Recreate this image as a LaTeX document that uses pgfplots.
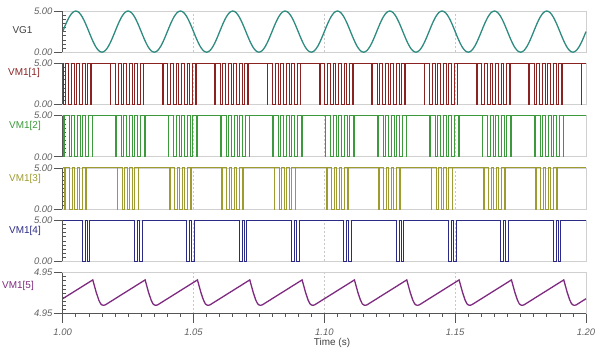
\documentclass[border=0pt]{standalone}
\usepackage{pgfplots}
\pgfplotsset{compat=1.18}
\usepackage{fontspec}
\setmainfont{Liberation Sans}
\definecolor{cVG}{HTML}{2E8B80}
\definecolor{cA}{HTML}{8B2222}
\definecolor{cB}{HTML}{3C9A3C}
\definecolor{cC}{HTML}{9E9C30}
\definecolor{cD}{HTML}{2B2B85}
\definecolor{cE}{HTML}{7E2A80}
\definecolor{framec}{HTML}{D0D0D0}
\definecolor{gridc}{HTML}{C8C8C8}
\definecolor{tickc}{HTML}{555555}
\definecolor{tlab}{HTML}{606060}
\pgfplotsset{
  panel/.style={
    width=523.3bp, height=41.2bp, scale only axis,
    xmin=1, xmax=1.2, ymin=0, ymax=5, clip=false,
    axis line style={draw=framec, line width=0.6bp},
    xtick={1.05,1.10,1.15}, xticklabels={}, xmajorticks=false, xminorticks=false,
    xmajorgrids, major x grid style={dash pattern=on 2bp off 2bp, draw=gridc, line width=0.5bp},
    ytick={0,5}, yticklabels={0.00,5.00}, ytick pos=left,
    minor y tick num=9,
    tick align=outside, major tick length=9bp, minor tick length=3bp,
    tick style={draw=tickc, line width=0.6bp},
    minor y tick style={xshift=3bp},
    yticklabel style={font=\fontsize{9.5}{10}\selectfont\itshape, text=tlab, inner sep=1bp},
    anchor=south west,
  },
  dig/.style={const plot, line width=0.9bp},
}
\begin{document}
\begin{tikzpicture}[x=1bp,y=1bp]
% ---------------- VG1
\begin{axis}[panel, at={(62.7bp,303.8bp)}]
\addplot[cVG, line width=1.3bp, smooth] coordinates {
(1.00000,2.5)(1.00125,3.457)(1.00250,4.268)(1.00375,4.810)(1.00500,5)(1.00625,4.810)(1.00750,4.268)(1.00875,3.457)(1.01000,2.5)(1.01125,1.543)(1.01250,0.732)(1.01375,0.190)(1.01500,0)(1.01625,0.190)(1.01750,0.732)(1.01875,1.543)
(1.02000,2.5)(1.02125,3.457)(1.02250,4.268)(1.02375,4.810)(1.02500,5)(1.02625,4.810)(1.02750,4.268)(1.02875,3.457)(1.03000,2.5)(1.03125,1.543)(1.03250,0.732)(1.03375,0.190)(1.03500,0)(1.03625,0.190)(1.03750,0.732)(1.03875,1.543)
(1.04000,2.5)(1.04125,3.457)(1.04250,4.268)(1.04375,4.810)(1.04500,5)(1.04625,4.810)(1.04750,4.268)(1.04875,3.457)(1.05000,2.5)(1.05125,1.543)(1.05250,0.732)(1.05375,0.190)(1.05500,0)(1.05625,0.190)(1.05750,0.732)(1.05875,1.543)
(1.06000,2.5)(1.06125,3.457)(1.06250,4.268)(1.06375,4.810)(1.06500,5)(1.06625,4.810)(1.06750,4.268)(1.06875,3.457)(1.07000,2.5)(1.07125,1.543)(1.07250,0.732)(1.07375,0.190)(1.07500,0)(1.07625,0.190)(1.07750,0.732)(1.07875,1.543)
(1.08000,2.5)(1.08125,3.457)(1.08250,4.268)(1.08375,4.810)(1.08500,5)(1.08625,4.810)(1.08750,4.268)(1.08875,3.457)(1.09000,2.5)(1.09125,1.543)(1.09250,0.732)(1.09375,0.190)(1.09500,0)(1.09625,0.190)(1.09750,0.732)(1.09875,1.543)
(1.10000,2.5)(1.10125,3.457)(1.10250,4.268)(1.10375,4.810)(1.10500,5)(1.10625,4.810)(1.10750,4.268)(1.10875,3.457)(1.11000,2.5)(1.11125,1.543)(1.11250,0.732)(1.11375,0.190)(1.11500,0)(1.11625,0.190)(1.11750,0.732)(1.11875,1.543)
(1.12000,2.5)(1.12125,3.457)(1.12250,4.268)(1.12375,4.810)(1.12500,5)(1.12625,4.810)(1.12750,4.268)(1.12875,3.457)(1.13000,2.5)(1.13125,1.543)(1.13250,0.732)(1.13375,0.190)(1.13500,0)(1.13625,0.190)(1.13750,0.732)(1.13875,1.543)
(1.14000,2.5)(1.14125,3.457)(1.14250,4.268)(1.14375,4.810)(1.14500,5)(1.14625,4.810)(1.14750,4.268)(1.14875,3.457)(1.15000,2.5)(1.15125,1.543)(1.15250,0.732)(1.15375,0.190)(1.15500,0)(1.15625,0.190)(1.15750,0.732)(1.15875,1.543)
(1.16000,2.5)(1.16125,3.457)(1.16250,4.268)(1.16375,4.810)(1.16500,5)(1.16625,4.810)(1.16750,4.268)(1.16875,3.457)(1.17000,2.5)(1.17125,1.543)(1.17250,0.732)(1.17375,0.190)(1.17500,0)(1.17625,0.190)(1.17750,0.732)(1.17875,1.543)
(1.18000,2.5)(1.18125,3.457)(1.18250,4.268)(1.18375,4.810)(1.18500,5)(1.18625,4.810)(1.18750,4.268)(1.18875,3.457)(1.19000,2.5)(1.19125,1.543)(1.19250,0.732)(1.19375,0.190)(1.19500,0)(1.19625,0.190)(1.19750,0.732)(1.19875,1.543)
(1.20000,2.5)};
\draw[tickc, line width=0.8bp] (rel axis cs:0,0) -- (rel axis cs:0,1);
\end{axis}
% ---------------- VM1[1]
\begin{axis}[panel, at={(62.7bp,251.5bp)}]
\addplot[cA, dig] coordinates {(1.0,5)
(1.0002,0)(1.0012,5)(1.0023,0)(1.0033,5)(1.0044,0)(1.0054,5)(1.0065,0)(1.0075,5)(1.0086,0)(1.0096,5)(1.0107,0)(1.0110,5)(1.0181,0)(1.0184,5)
(1.0202,0)(1.0212,5)(1.0223,0)(1.0233,5)(1.0244,0)(1.0254,5)(1.0265,0)(1.0275,5)(1.0286,0)(1.0296,5)(1.0307,0)(1.0310,5)(1.0381,0)(1.0384,5)
(1.0402,0)(1.0412,5)(1.0423,0)(1.0433,5)(1.0444,0)(1.0454,5)(1.0465,0)(1.0475,5)(1.0486,0)(1.0496,5)(1.0507,0)(1.0510,5)(1.0581,0)(1.0584,5)
(1.0602,0)(1.0612,5)(1.0623,0)(1.0633,5)(1.0644,0)(1.0654,5)(1.0665,0)(1.0675,5)(1.0686,0)(1.0696,5)(1.0707,0)(1.0710,5)(1.0781,0)(1.0784,5)
(1.0802,0)(1.0812,5)(1.0823,0)(1.0833,5)(1.0844,0)(1.0854,5)(1.0865,0)(1.0875,5)(1.0886,0)(1.0896,5)(1.0907,0)(1.0910,5)(1.0981,0)(1.0984,5)
(1.1002,0)(1.1012,5)(1.1023,0)(1.1033,5)(1.1044,0)(1.1054,5)(1.1065,0)(1.1075,5)(1.1086,0)(1.1096,5)(1.1107,0)(1.1110,5)(1.1181,0)(1.1184,5)
(1.1202,0)(1.1212,5)(1.1223,0)(1.1233,5)(1.1244,0)(1.1254,5)(1.1265,0)(1.1275,5)(1.1286,0)(1.1296,5)(1.1307,0)(1.1310,5)(1.1381,0)(1.1384,5)
(1.1402,0)(1.1412,5)(1.1423,0)(1.1433,5)(1.1444,0)(1.1454,5)(1.1465,0)(1.1475,5)(1.1486,0)(1.1496,5)(1.1507,0)(1.1510,5)(1.1581,0)(1.1584,5)
(1.1602,0)(1.1612,5)(1.1623,0)(1.1633,5)(1.1644,0)(1.1654,5)(1.1665,0)(1.1675,5)(1.1686,0)(1.1696,5)(1.1707,0)(1.1710,5)(1.1781,0)(1.1784,5)
(1.1802,0)(1.1812,5)(1.1823,0)(1.1833,5)(1.1844,0)(1.1854,5)(1.1865,0)(1.1875,5)(1.1886,0)(1.1896,5)(1.1907,0)(1.1910,5)(1.1981,0)(1.1984,5)
(1.2,5)};
\draw[tickc, line width=0.8bp] (rel axis cs:0,0) -- (rel axis cs:0,1);
\end{axis}
% ---------------- VM1[2]
\begin{axis}[panel, at={(62.7bp,199.2bp)}]
\addplot[cB, dig] coordinates {(1.0,5)
(1.0003,0)(1.0006,5)(1.0024,0)(1.0034,5)(1.0045,0)(1.0055,5)(1.0066,0)(1.0076,5)(1.0087,0)(1.0097,5)(1.0112,0)(1.0115,5)
(1.0203,0)(1.0206,5)(1.0224,0)(1.0234,5)(1.0245,0)(1.0255,5)(1.0266,0)(1.0276,5)(1.0287,0)(1.0297,5)(1.0312,0)(1.0315,5)
(1.0403,0)(1.0406,5)(1.0424,0)(1.0434,5)(1.0445,0)(1.0455,5)(1.0466,0)(1.0476,5)(1.0487,0)(1.0497,5)(1.0512,0)(1.0515,5)
(1.0603,0)(1.0606,5)(1.0624,0)(1.0634,5)(1.0645,0)(1.0655,5)(1.0666,0)(1.0676,5)(1.0687,0)(1.0697,5)(1.0712,0)(1.0715,5)
(1.0803,0)(1.0806,5)(1.0824,0)(1.0834,5)(1.0845,0)(1.0855,5)(1.0866,0)(1.0876,5)(1.0887,0)(1.0897,5)(1.0912,0)(1.0915,5)
(1.1003,0)(1.1006,5)(1.1024,0)(1.1034,5)(1.1045,0)(1.1055,5)(1.1066,0)(1.1076,5)(1.1087,0)(1.1097,5)(1.1112,0)(1.1115,5)
(1.1203,0)(1.1206,5)(1.1224,0)(1.1234,5)(1.1245,0)(1.1255,5)(1.1266,0)(1.1276,5)(1.1287,0)(1.1297,5)(1.1312,0)(1.1315,5)
(1.1403,0)(1.1406,5)(1.1424,0)(1.1434,5)(1.1445,0)(1.1455,5)(1.1466,0)(1.1476,5)(1.1487,0)(1.1497,5)(1.1512,0)(1.1515,5)
(1.1603,0)(1.1606,5)(1.1624,0)(1.1634,5)(1.1645,0)(1.1655,5)(1.1666,0)(1.1676,5)(1.1687,0)(1.1697,5)(1.1712,0)(1.1715,5)
(1.1803,0)(1.1806,5)(1.1824,0)(1.1834,5)(1.1845,0)(1.1855,5)(1.1866,0)(1.1876,5)(1.1887,0)(1.1897,5)(1.1912,0)(1.1915,5)
(1.2,5)};
\draw[tickc, line width=0.8bp] (rel axis cs:0,0) -- (rel axis cs:0,1);
\end{axis}
% ---------------- VM1[3]
\begin{axis}[panel, at={(62.7bp,146.9bp)}]
\addplot[cC, dig] coordinates {(1.0,5)
(1.0008,0)(1.0011,5)(1.0027,0)(1.0037,5)(1.0046,0)(1.0056,5)(1.0065,0)(1.0075,5)(1.0088,0)(1.0091,5)
(1.0208,0)(1.0211,5)(1.0227,0)(1.0237,5)(1.0246,0)(1.0256,5)(1.0265,0)(1.0275,5)(1.0288,0)(1.0291,5)
(1.0408,0)(1.0411,5)(1.0427,0)(1.0437,5)(1.0446,0)(1.0456,5)(1.0465,0)(1.0475,5)(1.0488,0)(1.0491,5)
(1.0608,0)(1.0611,5)(1.0627,0)(1.0637,5)(1.0646,0)(1.0656,5)(1.0665,0)(1.0675,5)(1.0688,0)(1.0691,5)
(1.0808,0)(1.0811,5)(1.0827,0)(1.0837,5)(1.0846,0)(1.0856,5)(1.0865,0)(1.0875,5)(1.0888,0)(1.0891,5)
(1.1008,0)(1.1011,5)(1.1027,0)(1.1037,5)(1.1046,0)(1.1056,5)(1.1065,0)(1.1075,5)(1.1088,0)(1.1091,5)
(1.1208,0)(1.1211,5)(1.1227,0)(1.1237,5)(1.1246,0)(1.1256,5)(1.1265,0)(1.1275,5)(1.1288,0)(1.1291,5)
(1.1408,0)(1.1411,5)(1.1427,0)(1.1437,5)(1.1446,0)(1.1456,5)(1.1465,0)(1.1475,5)(1.1488,0)(1.1491,5)
(1.1608,0)(1.1611,5)(1.1627,0)(1.1637,5)(1.1646,0)(1.1656,5)(1.1665,0)(1.1675,5)(1.1688,0)(1.1691,5)
(1.1808,0)(1.1811,5)(1.1827,0)(1.1837,5)(1.1846,0)(1.1856,5)(1.1865,0)(1.1875,5)(1.1888,0)(1.1891,5)
(1.2,5)};
\draw[tickc, line width=0.8bp] (rel axis cs:0,0) -- (rel axis cs:0,1);
\end{axis}
% ---------------- VM1[4]
\begin{axis}[panel, at={(62.7bp,94.6bp)}]
\addplot[cD, dig] coordinates {(1.0,5)
(1.0074,0)(1.0086,5)(1.0093,0)(1.0103,5)
(1.0274,0)(1.0286,5)(1.0293,0)(1.0303,5)
(1.0474,0)(1.0486,5)(1.0493,0)(1.0503,5)
(1.0674,0)(1.0686,5)(1.0693,0)(1.0703,5)
(1.0874,0)(1.0886,5)(1.0893,0)(1.0903,5)
(1.1074,0)(1.1086,5)(1.1093,0)(1.1103,5)
(1.1274,0)(1.1286,5)(1.1293,0)(1.1303,5)
(1.1474,0)(1.1486,5)(1.1493,0)(1.1503,5)
(1.1674,0)(1.1686,5)(1.1693,0)(1.1703,5)
(1.1874,0)(1.1886,5)(1.1893,0)(1.1903,5)
(1.2,5)};
\draw[tickc, line width=0.8bp] (rel axis cs:0,0) -- (rel axis cs:0,1);
\end{axis}
% ---------------- VM1[5]
\begin{axis}[panel, at={(62.7bp,42.3bp)}, ymin=0, ymax=1, ytick={0,1}, yticklabels={4.95,4.95},
  xtick={1.00,1.05,1.10,1.15,1.20}, xticklabels={1.00,1.05,1.10,1.15,1.20},
  xmajorticks=true, xminorticks=true, xtick pos=bottom, minor x tick num=9,
  xticklabel style={font=\fontsize{9.5}{10}\selectfont\itshape, text=tlab, yshift=-3bp}]
\addplot[cE, line width=1.3bp] coordinates {(1.0,0.364)
(1.0115,.82)(1.0128,.52)(1.0138,.33)(1.0145,.24)(1.0151,.21)(1.0157,.205)(1.0163,.215)
(1.0315,.82)(1.0328,.52)(1.0338,.33)(1.0345,.24)(1.0351,.21)(1.0357,.205)(1.0363,.215)
(1.0515,.82)(1.0528,.52)(1.0538,.33)(1.0545,.24)(1.0551,.21)(1.0557,.205)(1.0563,.215)
(1.0715,.82)(1.0728,.52)(1.0738,.33)(1.0745,.24)(1.0751,.21)(1.0757,.205)(1.0763,.215)
(1.0915,.82)(1.0928,.52)(1.0938,.33)(1.0945,.24)(1.0951,.21)(1.0957,.205)(1.0963,.215)
(1.1115,.82)(1.1128,.52)(1.1138,.33)(1.1145,.24)(1.1151,.21)(1.1157,.205)(1.1163,.215)
(1.1315,.82)(1.1328,.52)(1.1338,.33)(1.1345,.24)(1.1351,.21)(1.1357,.205)(1.1363,.215)
(1.1515,.82)(1.1528,.52)(1.1538,.33)(1.1545,.24)(1.1551,.21)(1.1557,.205)(1.1563,.215)
(1.1715,.82)(1.1728,.52)(1.1738,.33)(1.1745,.24)(1.1751,.21)(1.1757,.205)(1.1763,.215)
(1.1915,.82)(1.1928,.52)(1.1938,.33)(1.1945,.24)(1.1951,.21)(1.1957,.205)(1.1963,.215)
(1.2,0.364)};
\draw[tickc, line width=0.8bp] (rel axis cs:0,0) -- (rel axis cs:0,1);
\draw[tickc, line width=0.8bp] (rel axis cs:0,0) -- (rel axis cs:1,0);
\end{axis}
% labels
\begin{scope}[every node/.style={font=\fontsize{10}{12}\selectfont, inner sep=0pt}]
\node[text=black!75] at (22.5,326) {VG1};
\node[text=cA] at (24,283) {VM1[1]};
\node[text=cB] at (25,230) {VM1[2]};
\node[text=cC] at (25,177) {VM1[3]};
\node[text=cD] at (25,125) {VM1[4]};
\node[text=cE] at (18,70) {VM1[5]};
\node[text=black!75] at (332,13) {Time (s)};
\end{scope}
\pgfresetboundingbox
\path (0,0) rectangle (600,356);
\end{tikzpicture}
\end{document}
